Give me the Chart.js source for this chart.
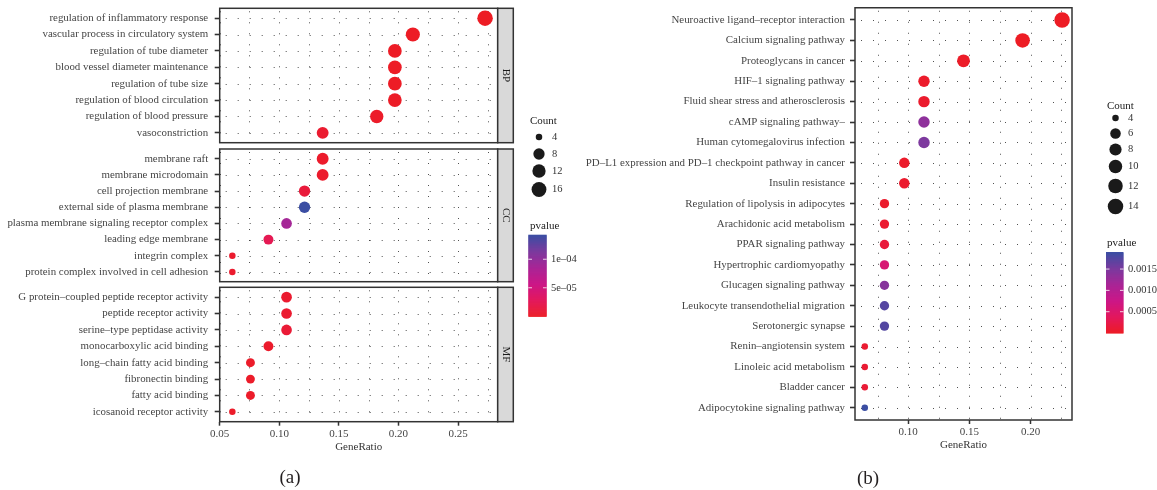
<!DOCTYPE html>
<html>
<head>
<meta charset="utf-8">
<script src="https://cdn.jsdelivr.net/npm/chart.js@4.4.1/dist/chart.umd.min.js"></script>
<style>
  html, body { margin: 0; padding: 0; background: #fff; }
  #wrap { position: relative; width: 1157px; height: 490px; overflow: hidden; background: #fff; }
  #wrap canvas { position: absolute; left: 0; top: 0; }
  .tag { position: absolute; font-family: "Liberation Serif", "DejaVu Serif", serif; font-size: 19px; color: #231f20; transform: translate(-50%, -50%); white-space: nowrap; }
</style>
</head>
<body>
<div id="wrap">
  <canvas id="cBP" width="1157" height="490"></canvas>
  <canvas id="cCC" width="1157" height="490"></canvas>
  <canvas id="cMF" width="1157" height="490"></canvas>
  <canvas id="cKEGG" width="1157" height="490"></canvas>
  <div class="tag" style="left:290px; top:477px;">(a)</div>
  <div class="tag" style="left:868px; top:478px;">(b)</div>
</div>
<script>
// ---------- GO enrichment: biological process ----------
const bpTerms = [
  "regulation of inflammatory response",
  "vascular process in circulatory system",
  "regulation of tube diameter",
  "blood vessel diameter maintenance",
  "regulation of tube size",
  "regulation of blood circulation",
  "regulation of blood pressure",
  "vasoconstriction"
];
const bpRatio = [0.2727, 0.2121, 0.1970, 0.1970, 0.1970, 0.1970, 0.1818, 0.1364];
const bpCount = [18, 14, 13, 13, 13, 13, 12, 9];
const bpP     = [1e-8, 4e-7, 1e-6, 1e-6, 1.2e-6, 1.5e-6, 3e-6, 6e-6];

// ---------- GO enrichment: cellular component ----------
const ccTerms = [
  "membrane raft",
  "membrane microdomain",
  "cell projection membrane",
  "external side of plasma membrane",
  "plasma membrane signaling receptor complex",
  "leading edge membrane",
  "integrin complex",
  "protein complex involved in cell adhesion"
];
const ccRatio = [0.1364, 0.1364, 0.1212, 0.1212, 0.1061, 0.0909, 0.0606, 0.0606];
const ccCount = [9, 9, 8, 8, 7, 6, 4, 4];
const ccP     = [4e-6, 4e-6, 1.2e-5, 1.43e-4, 8.8e-5, 2.4e-5, 5e-6, 5e-6];

// ---------- GO enrichment: molecular function ----------
const mfTerms = [
  "G protein–coupled peptide receptor activity",
  "peptide receptor activity",
  "serine–type peptidase activity",
  "monocarboxylic acid binding",
  "long–chain fatty acid binding",
  "fibronectin binding",
  "fatty acid binding",
  "icosanoid receptor activity"
];
const mfRatio = [0.1061, 0.1061, 0.1061, 0.0909, 0.0758, 0.0758, 0.0758, 0.0606];
const mfCount = [7, 7, 7, 6, 5, 5, 5, 4];
const mfP     = [6e-6, 6e-6, 9e-6, 4e-6, 3e-6, 3e-6, 3e-6, 3e-6];

// ---------- KEGG pathway enrichment ----------
const keggTerms = [
  "Neuroactive ligand–receptor interaction",
  "Calcium signaling pathway",
  "Proteoglycans in cancer",
  "HIF–1 signaling pathway",
  "Fluid shear stress and atherosclerosis",
  "cAMP signaling pathway–",
  "Human cytomegalovirus infection",
  "PD–L1 expression and PD–1 checkpoint pathway in cancer",
  "Insulin resistance",
  "Regulation of lipolysis in adipocytes",
  "Arachidonic acid metabolism",
  "PPAR signaling pathway",
  "Hypertrophic cardiomyopathy",
  "Glucagen signaling pathway",
  "Leukocyte transendothelial migration",
  "Serotonergic synapse",
  "Renin–angiotensin system",
  "Linoleic acid metabolism",
  "Bladder cancer",
  "Adipocytokine signaling pathway"
];
const keggRatio = [0.2258, 0.1935, 0.1452, 0.1129, 0.1129, 0.1129, 0.1129, 0.0968, 0.0968,
                   0.0806, 0.0806, 0.0806, 0.0806, 0.0806, 0.0806, 0.0806,
                   0.0645, 0.0645, 0.0645, 0.0645];
const keggCount = [14, 12, 9, 7, 7, 7, 7, 6, 6, 5, 5, 5, 5, 5, 5, 5, 4, 4, 4, 4];
const keggP     = [1e-6, 4e-6, 3e-5, 5e-5, 6e-5, 1.36e-3, 1.5e-3, 5e-5, 7e-5,
                   6e-5, 8e-5, 1.6e-4, 5.8e-4, 1.42e-3, 1.74e-3, 1.76e-3,
                   9e-5, 1e-4, 1.2e-4, 1.9e-3];

// ---------- legend breaks ----------
const goCountBreaks = [4, 8, 12, 16];
const goPBreaks = [5e-5, 1e-4];
const goPBreakLabels = ["5e–05", "1e–04"];
const keggCountBreaks = [4, 6, 8, 10, 12, 14];
const keggPBreaks = [0.0005, 0.0010, 0.0015];
const keggPBreakLabels = ["0.0005", "0.0010", "0.0015"];

// ---------- shared styling helpers ----------
const FONT = '"Liberation Serif", "DejaVu Serif", serif';
const TEXT = '#454545';
const INK = '#333333';

// red -> magenta -> blue ramp used for p-values
const RAMP = [[0, '#ED1C24'], [0.2, '#E3185C'], [0.4, '#CC1787'], [0.6, '#A92596'], [0.8, '#7B3A9E'], [1, '#3B4EA3']];
function hexRgb(h) { return [1, 3, 5].map(i => parseInt(h.substr(i, 2), 16)); }
function ramp(t) {
  t = Math.max(0, Math.min(1, t));
  for (let i = 1; i < RAMP.length; i++) {
    if (t <= RAMP[i][0]) {
      const [t0, c0] = RAMP[i - 1], [t1, c1] = RAMP[i];
      const f = (t - t0) / (t1 - t0);
      const a = hexRgb(c0), b = hexRgb(c1);
      return 'rgb(' + a.map((v, k) => Math.round(v + (b[k] - v) * f)).join(',') + ')';
    }
  }
  return RAMP[RAMP.length - 1][1];
}
// area-proportional point size
function diam(c, lo, hi) { return 6.5 + Math.sqrt((c - lo) / (hi - lo)) * (15.5 - 6.5); }
function isMajor(v) { return Math.abs(v / 0.05 - Math.round(v / 0.05)) < 1e-6; }

const goAllP = bpP.concat(ccP, mfP);
const goAllC = bpCount.concat(ccCount, mfCount);
const goPRange = [Math.min(...goAllP), Math.max(...goAllP)];
const goCRange = [Math.min(...goAllC), Math.max(...goAllC)];
const keggPRange = [Math.min(...keggP), Math.max(...keggP)];
const keggCRange = [Math.min(...keggCount), Math.max(...keggCount)];

// dotted grid behind the points
const dotGrid = {
  id: 'dotGrid',
  beforeDatasetsDraw(chart) {
    const { ctx, chartArea: a, scales: { x, y } } = chart;
    ctx.save();
    ctx.beginPath(); ctx.rect(a.left, a.top, a.right - a.left, a.bottom - a.top); ctx.clip();
    ctx.strokeStyle = 'rgba(50,50,50,0.85)';
    ctx.lineWidth = 1;
    ctx.setLineDash([1, 10]);
    x.ticks.forEach(t => {
      const px = Math.round(x.getPixelForValue(t.value)) + 0.5;
      ctx.beginPath(); ctx.moveTo(px, a.top + 3); ctx.lineTo(px, a.bottom); ctx.stroke();
    });
    ctx.setLineDash([1, 11]);
    y.ticks.forEach(t => {
      const py = Math.round(y.getPixelForValue(t.value)) + 0.5;
      ctx.beginPath(); ctx.moveTo(a.left + 6, py); ctx.lineTo(a.right, py); ctx.stroke();
    });
    ctx.restore();
  }
};

// panel frame and facet strip
const frame = {
  id: 'frame',
  afterDatasetsDraw(chart, args, opts) {
    const { ctx, chartArea: a } = chart;
    ctx.save();
    ctx.strokeStyle = INK;
    ctx.lineWidth = 1.5;
    ctx.strokeRect(a.left, a.top, a.right - a.left, a.bottom - a.top);
    if (opts.strip) {
      const w = 15.6;
      ctx.fillStyle = '#d9d9d9';
      ctx.fillRect(a.right, a.top, w, a.bottom - a.top);
      ctx.strokeRect(a.right, a.top, w, a.bottom - a.top);
      ctx.translate(a.right + w / 2, (a.top + a.bottom) / 2);
      ctx.rotate(Math.PI / 2);
      ctx.fillStyle = '#1a1a1a';
      ctx.font = '11px ' + FONT;
      ctx.textAlign = 'center';
      ctx.textBaseline = 'middle';
      ctx.fillText(opts.strip, 0, 0);
    }
    ctx.restore();
  }
};

// size and colour legends
const keyLegend = {
  id: 'keyLegend',
  afterDraw(chart, args, o) {
    if (!o.show) return;
    const ctx = chart.ctx;
    ctx.save();
    ctx.font = '11px ' + FONT;
    ctx.fillStyle = '#222';
    ctx.textAlign = 'left';
    ctx.textBaseline = 'middle';
    ctx.fillText('Count', o.x, o.countTitleY);
    o.counts.forEach((c, i) => {
      const d = diam(c, o.cRange[0], o.cRange[1]);
      ctx.fillStyle = '#1a1a1a';
      ctx.beginPath(); ctx.arc(o.keyX, o.countY[i], d / 2, 0, Math.PI * 2); ctx.fill();
      ctx.fillStyle = '#333';
      ctx.font = '10.5px ' + FONT;
      ctx.fillText(String(c), o.labelX, o.countY[i]);
    });
    ctx.font = '11px ' + FONT;
    ctx.fillStyle = '#222';
    ctx.fillText('pvalue', o.x, o.pTitleY);
    const b = o.bar;
    const steps = Math.ceil(b.h);
    for (let i = 0; i < steps; i++) {
      const t = (i + 0.5) / steps;
      ctx.fillStyle = ramp(t);
      ctx.fillRect(b.x, b.y + b.h - (i + 1) * (b.h / steps), b.w, b.h / steps + 0.6);
    }
    o.pBreaks.forEach((p, i) => {
      const t = (p - o.pRange[0]) / (o.pRange[1] - o.pRange[0]);
      const py = b.y + b.h - t * b.h;
      ctx.strokeStyle = 'rgba(255,255,255,0.8)';
      ctx.lineWidth = 1;
      ctx.beginPath();
      ctx.moveTo(b.x, py); ctx.lineTo(b.x + b.w / 5, py);
      ctx.moveTo(b.x + b.w * 4 / 5, py); ctx.lineTo(b.x + b.w, py);
      ctx.stroke();
      ctx.fillStyle = '#333';
      ctx.font = '10.5px ' + FONT;
      ctx.fillText(o.pLabels[i], o.pLabelX, py);
    });
    ctx.restore();
  }
};

const W = 1157, H = 490;

function dotChart(id, cfg) {
  const n = cfg.terms.length;
  const pts = cfg.ratio.map((x, i) => ({ x: x, y: i }));
  return new Chart(document.getElementById(id), {
    type: 'scatter',
    data: {
      datasets: [{
        data: pts,
        clip: false,
        borderWidth: 0,
        pointRadius: ctx => diam(cfg.count[ctx.dataIndex], cfg.cRange[0], cfg.cRange[1]) / 2,
        pointHoverRadius: ctx => diam(cfg.count[ctx.dataIndex], cfg.cRange[0], cfg.cRange[1]) / 2,
        backgroundColor: ctx => ramp((cfg.p[ctx.dataIndex] - cfg.pRange[0]) / (cfg.pRange[1] - cfg.pRange[0])),
        borderColor: 'rgba(0,0,0,0)'
      }]
    },
    options: {
      responsive: false,
      animation: false,
      devicePixelRatio: 1,
      events: [],
      layout: { padding: { left: 0, top: cfg.area.t, right: W - cfg.area.r, bottom: H - cfg.area.b - cfg.xh } },
      scales: {
        x: {
          type: 'linear',
          min: cfg.xMin, max: cfg.xMax,
          afterBuildTicks: s => {
            const t = [];
            for (let k = 0; k <= 12; k++) {
              const v = +(0.025 * k).toFixed(3);
              if (v >= cfg.xMin - 1e-9 && v <= cfg.xMax + 1e-9) t.push({ value: v });
            }
            s.ticks = t;
          },
          afterFit: s => { s.height = cfg.xh; s.paddingLeft = 0; s.paddingRight = 0; },
          border: { display: false },
          grid: {
            drawOnChartArea: false,
            drawTicks: cfg.showX,
            tickLength: 4,
            tickWidth: 1.5,
            color: INK,
            tickColor: ctx => (ctx.tick && isMajor(ctx.tick.value)) ? INK : 'rgba(0,0,0,0)'
          },
          ticks: {
            display: cfg.showX,
            autoSkip: false,
            maxRotation: 0,
            padding: 2,
            color: TEXT,
            font: { family: FONT, size: 11 },
            callback: v => isMajor(v) ? v.toFixed(2) : ''
          },
          title: {
            display: cfg.showX,
            text: 'GeneRatio',
            color: '#333',
            font: { family: FONT, size: 11 },
            padding: { top: 0, bottom: 0 }
          }
        },
        y: {
          type: 'linear',
          reverse: true,
          min: -0.6, max: n - 0.4,
          afterBuildTicks: s => { s.ticks = cfg.terms.map((_, i) => ({ value: i })); },
          afterFit: s => { s.width = cfg.area.l; s.paddingTop = 0; s.paddingBottom = 0; },
          border: { display: false },
          grid: { drawOnChartArea: false, tickLength: 5, tickWidth: 1.6, color: INK, tickColor: INK },
          ticks: {
            autoSkip: false,
            padding: cfg.yPad,
            color: TEXT,
            font: { family: FONT, size: 10.9 },
            callback: v => cfg.terms[v]
          }
        }
      },
      plugins: {
        legend: { display: false },
        tooltip: { enabled: false },
        frame: { strip: cfg.strip || null },
        keyLegend: cfg.legend || { show: false }
      }
    },
    plugins: [dotGrid, frame, keyLegend]
  });
}

const goX = { xMin: 0.05, xMax: 0.2833, yPad: 6.5 };
const goLegend = {
  show: true, x: 530, countTitleY: 121, keyX: 539, labelX: 552,
  counts: goCountBreaks, countY: [137, 154, 171, 189.5], cRange: goCRange,
  pTitleY: 226, bar: { x: 528.3, y: 234.7, w: 18.4, h: 81.6 },
  pRange: goPRange, pBreaks: goPBreaks, pLabels: goPBreakLabels, pLabelX: 551
};
const keggLegend = {
  show: true, x: 1107, countTitleY: 106, keyX: 1115.5, labelX: 1128,
  counts: keggCountBreaks, countY: [118, 133.5, 149.5, 166.5, 186, 206.5], cRange: keggCRange,
  pTitleY: 243, bar: { x: 1106, y: 252, w: 17.5, h: 81 },
  pRange: keggPRange, pBreaks: keggPBreaks, pLabels: keggPBreakLabels, pLabelX: 1128
};

dotChart('cBP', Object.assign({ terms: bpTerms, ratio: bpRatio, count: bpCount, p: bpP,
  cRange: goCRange, pRange: goPRange, strip: 'BP', showX: false, xh: 0,
  area: { l: 219.7, r: 497.7, t: 8.3, b: 142.7 } }, goX));
dotChart('cCC', Object.assign({ terms: ccTerms, ratio: ccRatio, count: ccCount, p: ccP,
  cRange: goCRange, pRange: goPRange, strip: 'CC', showX: false, xh: 0,
  area: { l: 219.7, r: 497.7, t: 149, b: 281.7 } }, goX));
dotChart('cMF', Object.assign({ terms: mfTerms, ratio: mfRatio, count: mfCount, p: mfP,
  cRange: goCRange, pRange: goPRange, strip: 'MF', showX: true, xh: 32,
  area: { l: 219.7, r: 497.7, t: 287.3, b: 421.7 }, legend: goLegend }, goX));
dotChart('cKEGG', { terms: keggTerms, ratio: keggRatio, count: keggCount, p: keggP,
  cRange: keggCRange, pRange: keggPRange, showX: true, xh: 32,
  xMin: 0.0565, xMax: 0.2339, yPad: 5,
  area: { l: 855, r: 1072, t: 7.5, b: 420 }, legend: keggLegend });
</script>
</body>
</html>
